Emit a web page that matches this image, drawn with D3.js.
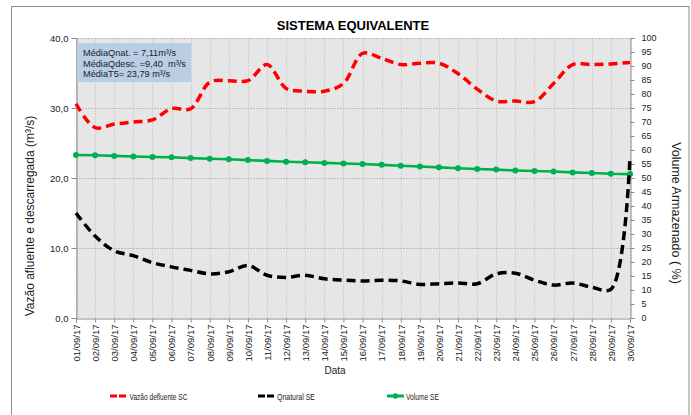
<!DOCTYPE html>
<html>
<head>
<meta charset="utf-8">
<script src="https://cdn.jsdelivr.net/npm/d3@7"></script>
<style>
  html, body { margin: 0; padding: 0; background: #ffffff; }
  svg { display: block; font-family: "Liberation Sans", Arial, sans-serif; }
</style>
</head>
<body>
<svg id="chart" width="691" height="415"></svg>
<script>
// ---------- DATA ----------
const dates = ["01/09/17","02/09/17","03/09/17","04/09/17","05/09/17","06/09/17","07/09/17","08/09/17","09/09/17","10/09/17",
               "11/09/17","12/09/17","13/09/17","14/09/17","15/09/17","16/09/17","17/09/17","18/09/17","19/09/17","20/09/17",
               "21/09/17","22/09/17","23/09/17","24/09/17","25/09/17","26/09/17","27/09/17","28/09/17","29/09/17","30/09/17"];
const vazaoDefluenteSC = [30.6, 27.2, 27.7, 28.0, 28.3, 29.9, 29.9, 33.7, 33.9, 33.9,
                          36.2, 32.8, 32.4, 32.4, 33.5, 37.8, 37.1, 36.2, 36.4, 36.4,
                          34.9, 32.7, 31.0, 31.0, 30.9, 33.5, 36.2, 36.2, 36.3, 36.5];
const qnaturalSE = [15.0, 11.7, 9.6, 8.9, 7.9, 7.3, 6.8, 6.3, 6.6, 7.5,
                    6.1, 5.8, 6.1, 5.6, 5.4, 5.3, 5.4, 5.3, 4.8, 4.9,
                    5.0, 4.9, 6.3, 6.4, 5.4, 4.7, 5.0, 4.4, 4.1, 23.0];
const volumeSE = [58.2, 58.1, 57.9, 57.7, 57.5, 57.4, 57.1, 56.9, 56.7, 56.4,
                  56.1, 55.8, 55.6, 55.4, 55.2, 55.0, 54.7, 54.4, 54.1, 53.8,
                  53.5, 53.2, 53.0, 52.7, 52.5, 52.3, 52.0, 51.8, 51.5, 51.4];
const leftTicks = [0, 10, 20, 30, 40];
const rightTicks = d3.range(0, 101, 5);
const title = "SISTEMA EQUIVALENTE";
const leftTitle = "Vazão afluente e descarregada (m³/s)";
const rightTitle = "Volume Armazenado ( %)";
const xTitle = "Data";
const notes = ["MédiaQnat. = 7,11m³/s", "MédiaQdesc. =9,40  m³/s", "MédiaT5= 23,79 m³/s"];
const seriesNames = ["Vazão defluente SC", "Qnatural SE", "Volume SE"];

// ---------- LAYOUT ----------
const svg = d3.select("#chart");
const P = { left: 76, right: 630, top: 38, bottom: 318 };

const x = d3.scalePoint().domain(dates).range([P.left, P.right]);
const yL = d3.scaleLinear().domain([0, 40]).range([P.bottom, P.top]);
const yR = d3.scaleLinear().domain([0, 100]).range([P.bottom, P.top]);

// outer border
svg.append("rect").attr("x", 11.5).attr("y", 6.5).attr("width", 677.5).attr("height", 420)
  .attr("fill", "none").attr("stroke", "#8c8c8c").attr("stroke-width", 1);

// plot background
svg.append("rect").attr("x", P.left).attr("y", P.top)
  .attr("width", P.right - P.left).attr("height", P.bottom - P.top)
  .attr("fill", "#e6e6e6");

// vertical gridlines
svg.append("g").selectAll("line").data(dates).join("line")
  .attr("x1", d => Math.round(x(d)) + 0.5).attr("x2", d => Math.round(x(d)) + 0.5)
  .attr("y1", P.top).attr("y2", P.bottom)
  .attr("stroke", "#cfcfcf").attr("stroke-width", 1).attr("stroke-dasharray", "2,1");

// horizontal gridlines
svg.append("g").selectAll("line").data(leftTicks.filter(d => d > 0)).join("line")
  .attr("x1", P.left).attr("x2", P.right)
  .attr("y1", d => Math.round(yL(d)) + 0.5).attr("y2", d => Math.round(yL(d)) + 0.5)
  .attr("stroke", "#bdbdbd").attr("stroke-width", 1).attr("stroke-dasharray", "2,1");

// left axis
const fmtL = d => d3.format(".1f")(d).replace(".", ",");
const gL = svg.append("g").attr("transform", `translate(${P.left + 0.5},0)`)
  .call(d3.axisLeft(yL).tickValues(leftTicks).tickFormat(fmtL).tickSize(5).tickPadding(3));
gL.selectAll("text").attr("font-size", 9.5).attr("fill", "#222")
  .attr("font-family", "'Liberation Sans', Arial, sans-serif");
gL.selectAll("line, path").attr("stroke", "#8c8c8c");

// right axis
const gR = svg.append("g").attr("transform", `translate(${P.right + 0.5},0)`)
  .call(d3.axisRight(yR).tickValues(rightTicks).tickFormat(d3.format("d")).tickSize(4).tickPadding(7));
gR.selectAll("text").attr("font-size", 9).attr("fill", "#222")
  .attr("font-family", "'Liberation Sans', Arial, sans-serif");
gR.selectAll("line, path").attr("stroke", "#8c8c8c");

// bottom axis
const gB = svg.append("g").attr("transform", `translate(0,${P.bottom + 0.5})`)
  .call(d3.axisBottom(x).tickSize(4).tickPadding(2));
gB.selectAll("line, path").attr("stroke", "#8c8c8c");
gB.selectAll("text")
  .attr("font-size", 9.5).attr("fill", "#222")
  .attr("font-family", "'Liberation Sans', Arial, sans-serif")
  .attr("text-anchor", "end")
  .attr("transform", "rotate(-90)")
  .attr("x", -6).attr("y", 0).attr("dy", "0.35em");

// lines
const lineL = d3.line().x((d, i) => x(dates[i])).y(d => yL(d)).curve(d3.curveCatmullRom.alpha(0.5));
const lineR = d3.line().x((d, i) => x(dates[i])).y(d => yR(d));

svg.append("path").datum(volumeSE).attr("d", lineR)
  .attr("fill", "none").attr("stroke", "#00b050").attr("stroke-width", 2.6);
svg.append("g").selectAll("circle").data(volumeSE).join("circle")
  .attr("cx", (d, i) => x(dates[i])).attr("cy", d => yR(d)).attr("r", 3)
  .attr("fill", "#00b050");

svg.append("path").datum(vazaoDefluenteSC).attr("d", lineL)
  .attr("fill", "none").attr("stroke", "#ff0000").attr("stroke-width", 3.5)
  .attr("stroke-dasharray", "9,5");

svg.append("path").datum(qnaturalSE).attr("d", lineL)
  .attr("fill", "none").attr("stroke", "#000000").attr("stroke-width", 3.5)
  .attr("stroke-dasharray", "9,5");

// annotation box
svg.append("rect").attr("x", 77).attr("y", 43).attr("width", 114).attr("height", 39)
  .attr("fill", "#b9cde5");
svg.append("g").selectAll("text").data(notes).join("text")
  .attr("x", 83).attr("y", (d, i) => 56 + i * 10.7)
  .attr("font-size", 9.2).attr("fill", "#222").attr("xml:space", "preserve")
  .style("white-space", "pre")
  .text(d => d);

// title
svg.append("text").attr("x", 353).attr("y", 30).attr("text-anchor", "middle")
  .attr("font-size", 13).attr("font-weight", "bold").attr("fill", "#000").text(title);

// axis titles
svg.append("text").attr("transform", "translate(34,216) rotate(-90)")
  .attr("text-anchor", "middle").attr("font-size", 12).attr("fill", "#222").text(leftTitle);
svg.append("text").attr("transform", "translate(672,213) rotate(90)")
  .attr("text-anchor", "middle").attr("font-size", 12.5).attr("fill", "#222").text(rightTitle);
svg.append("text").attr("x", 335).attr("y", 374).attr("text-anchor", "middle")
  .attr("font-size", 10).attr("fill", "#222").text(xTitle);

// legend
const legY = 396;
const leg = [
  { name: seriesNames[0], color: "#ff0000", x0: 110, w: 16, tx: 129.5, tw: 58, dash: "7,2", marker: false },
  { name: seriesNames[1], color: "#000000", x0: 258, w: 16, tx: 277, tw: 38, dash: "7,2", marker: false },
  { name: seriesNames[2], color: "#00b050", x0: 387, w: 17, tx: 406, tw: 33, dash: null, marker: true }
];
const lg = svg.append("g").selectAll("g").data(leg).join("g");
lg.append("line").attr("x1", d => d.x0).attr("x2", d => d.x0 + d.w)
  .attr("y1", legY).attr("y2", legY)
  .attr("stroke", d => d.color).attr("stroke-width", 3)
  .attr("stroke-dasharray", d => d.dash);
lg.filter(d => d.marker).append("circle").attr("cx", d => d.x0 + d.w / 2).attr("cy", legY).attr("r", 2.8)
  .attr("fill", d => d.color);
lg.append("text").attr("x", d => d.tx).attr("y", legY + 3.5)
  .attr("font-size", 9.5).attr("fill", "#222")
  .attr("textLength", d => d.tw).attr("lengthAdjust", "spacingAndGlyphs")
  .text(d => d.name);
</script>
</body>
</html>
